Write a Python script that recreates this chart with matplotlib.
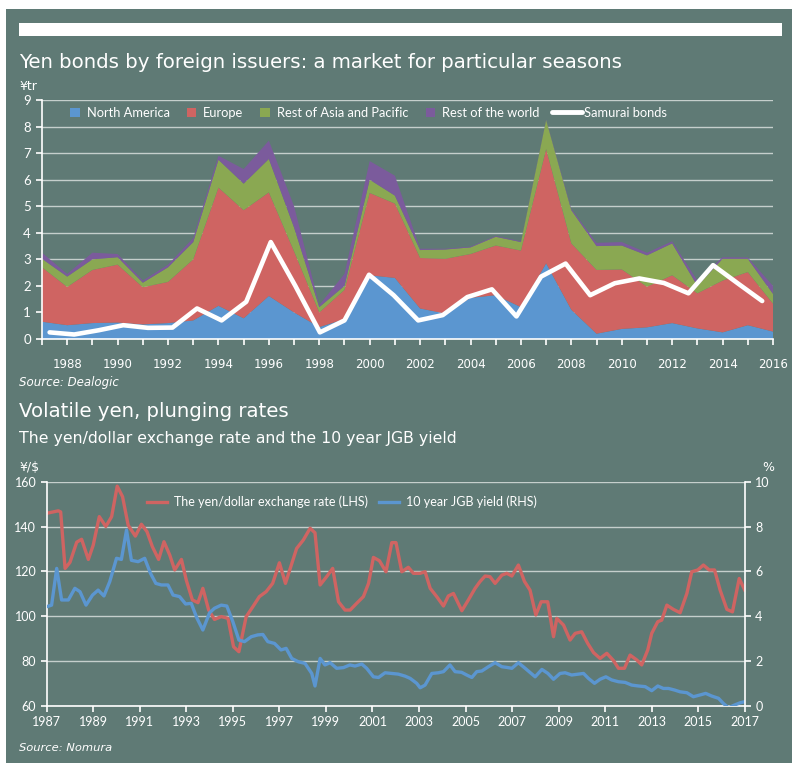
import numpy as np
import matplotlib.pyplot as plt
from matplotlib import font_manager
from matplotlib.patches import Rectangle, Patch
from matplotlib.lines import Line2D

# ---------------- data ----------------
years = list(range(1987, 2017))
north_america = [0.65, 0.52, 0.60, 0.62, 0.55, 0.60, 0.70, 1.25, 0.78, 1.62,
                 1.00, 0.45, 0.75, 2.40, 2.30, 1.15, 0.96, 1.55, 1.65, 1.20,
                 2.85, 1.10, 0.20, 0.38, 0.44, 0.60, 0.40, 0.25, 0.52, 0.28]
europe = [2.05, 1.44, 2.00, 2.18, 1.40, 1.55, 2.30, 4.45, 4.07, 3.90,
          2.30, 0.55, 1.10, 3.10, 2.80, 1.90, 2.06, 1.65, 1.87, 2.13,
          4.30, 2.50, 2.40, 2.24, 1.53, 1.80, 1.32, 1.95, 2.00, 1.05]
asia_pacific = [0.32, 0.39, 0.40, 0.28, 0.17, 0.55, 0.65, 1.05, 1.00, 1.26,
                0.90, 0.20, 0.15, 0.50, 0.30, 0.30, 0.35, 0.25, 0.33, 0.32,
                1.10, 1.25, 0.90, 0.90, 1.18, 1.20, 0.28, 0.82, 0.50, 0.37]
rest_world = [0.23, 0.10, 0.25, 0.12, 0.08, 0.10, 0.15, 0.15, 0.55, 0.69,
              0.80, 0.08, 0.45, 0.70, 0.75, 0.05, 0.03, 0.03, 0.03, 0.03,
              0.02, 0.05, 0.12, 0.13, 0.10, 0.08, 0.20, 0.06, 0.05, 0.30]
samurai = [0.25, 0.17, 0.33, 0.52, 0.42, 0.43, 1.15, 0.70, 1.40, 3.65,
           2.00, 0.25, 0.70, 2.42, 1.65, 0.70, 0.90, 1.58, 1.87, 0.85,
           2.35, 2.84, 1.65, 2.10, 2.28, 2.11, 1.72, 2.78, 2.10, 1.43]

fx_t = [1987.0, 1987.5, 1987.6, 1987.79, 1988.0, 1988.29, 1988.5, 1988.79, 1989.0,
        1989.26, 1989.54, 1989.79, 1990.03, 1990.26, 1990.5, 1990.81, 1991.07,
        1991.31, 1991.54, 1991.81, 1992.04, 1992.29, 1992.5, 1992.79, 1993.0,
        1993.26, 1993.5, 1993.71, 1993.96, 1994.21, 1994.5, 1994.79, 1995.03,
        1995.26, 1995.57, 1995.86, 1996.14, 1996.43, 1996.71, 1997.0, 1997.26,
        1997.74, 1998.03, 1998.32, 1998.53, 1998.75, 1999.03, 1999.29, 1999.54,
        1999.82, 2000.04, 2000.32, 2000.61, 2000.83, 2001.04, 2001.3, 2001.58,
        2001.83, 2002.01, 2002.26, 2002.54, 2002.76, 2003.05, 2003.26, 2003.48,
        2003.76, 2004.05, 2004.26, 2004.48, 2004.84, 2005.12, 2005.41, 2005.62,
        2005.84, 2006.05, 2006.27, 2006.56, 2006.77, 2006.99, 2007.27, 2007.53,
        2007.77, 2008.02, 2008.25, 2008.53, 2008.78, 2008.92, 2009.21, 2009.49,
        2009.71, 2009.99, 2010.25, 2010.5, 2010.78, 2011.07, 2011.36, 2011.57,
        2011.83, 2012.07, 2012.36, 2012.57, 2012.83, 2013.0, 2013.26, 2013.43,
        2013.65, 2013.93, 2014.22, 2014.51, 2014.72, 2014.98, 2015.22, 2015.47,
        2015.7, 2015.94, 2016.23, 2016.47, 2016.76, 2017.0]
fx_v = [145.9, 147.0, 146.5, 121.3, 124.0, 133.0, 134.3, 125.3, 131.7,
        144.4, 140.0, 144.4, 158.0, 153.3, 140.6, 135.7, 141.0,
        137.7, 131.0, 125.3, 133.2, 127.2, 120.6, 125.3, 116.0,
        107.2, 106.0, 112.4, 102.7, 98.5, 99.8, 99.0, 86.3,
        84.1, 99.7, 104.2, 108.7, 110.9, 114.6, 123.8, 114.6,
        130.2, 134.0, 139.2, 137.2, 113.9, 117.6, 121.3, 106.4,
        102.7, 102.7, 105.7, 108.7, 114.6, 126.2, 124.7, 119.8,
        132.8, 132.8, 119.8, 121.8, 119.1, 119.1, 119.8, 112.4,
        108.7, 104.5, 109.0, 110.1, 102.4, 107.2, 112.4, 115.4,
        117.9, 117.6, 114.6, 118.3, 119.1, 117.9, 122.8, 115.5,
        111.6, 100.5, 106.4, 106.4, 90.8, 99.0, 96.0, 89.3,
        92.3, 93.0, 87.8, 83.7, 81.1, 83.4, 80.1, 76.7,
        76.7, 82.6, 80.4, 78.2, 84.9, 92.3, 97.5, 98.2,
        104.9, 103.0, 101.5, 110.1, 119.8, 120.6, 122.8, 120.6,
        120.6, 111.6, 103.0, 101.9, 116.8, 111.6]

jgb_t = [1987.0, 1987.21, 1987.43, 1987.64, 1987.93, 1988.21, 1988.43, 1988.69,
         1988.97, 1989.21, 1989.46, 1989.71, 1990.0, 1990.21, 1990.43, 1990.64,
         1990.93, 1991.21, 1991.46, 1991.69, 1991.93, 1992.21, 1992.43, 1992.71,
         1992.97, 1993.21, 1993.46, 1993.71, 1994.0, 1994.21, 1994.5, 1994.74,
         1995.0, 1995.26, 1995.5, 1995.79, 1996.07, 1996.29, 1996.5, 1996.79,
         1997.07, 1997.29, 1997.53, 1997.82, 1998.1, 1998.39, 1998.53, 1998.75,
         1998.96, 1999.18, 1999.46, 1999.75, 2000.03, 2000.25, 2000.54, 2000.75,
         2001.04, 2001.26, 2001.54, 2001.83, 2002.11, 2002.4, 2002.62, 2002.9,
         2003.05, 2003.26, 2003.55, 2003.83, 2004.05, 2004.33, 2004.55, 2004.83,
         2005.05, 2005.27, 2005.48, 2005.7, 2005.98, 2006.27, 2006.56, 2006.77,
         2006.99, 2007.27, 2007.56, 2007.99, 2008.28, 2008.54, 2008.78, 2009.06,
         2009.28, 2009.56, 2009.85, 2010.07, 2010.28, 2010.54, 2010.78, 2011.03,
         2011.28, 2011.57, 2011.86, 2012.14, 2012.43, 2012.72, 2013.0, 2013.26,
         2013.5, 2013.72, 2013.98, 2014.22, 2014.51, 2014.79, 2015.08, 2015.32,
         2015.58, 2015.87, 2016.08, 2016.3, 2016.56, 2016.8, 2017.0]
jgb_v = [4.42, 4.49, 6.13, 4.72, 4.72, 5.24, 5.09, 4.49,
         4.94, 5.16, 4.90, 5.54, 6.58, 6.53, 7.84, 6.49,
         6.43, 6.58, 5.91, 5.46, 5.39, 5.39, 4.94, 4.87,
         4.54, 4.57, 3.90, 3.38, 4.15, 4.35, 4.49, 4.45,
         3.75, 2.93, 2.86, 3.08, 3.16, 3.18, 2.86, 2.78,
         2.49, 2.56, 2.11, 1.96, 1.89, 1.44, 0.88, 2.11,
         1.82, 1.92, 1.67, 1.70, 1.82, 1.77, 1.86, 1.67,
         1.29, 1.26, 1.47, 1.44, 1.41, 1.32, 1.22, 1.00,
         0.80, 0.92, 1.44, 1.47, 1.52, 1.82, 1.52, 1.49,
         1.37, 1.26, 1.52, 1.55, 1.74, 1.92, 1.74, 1.71,
         1.67, 1.92, 1.67, 1.29, 1.62, 1.44, 1.18, 1.44,
         1.47, 1.37, 1.41, 1.44, 1.22, 1.00, 1.18, 1.29,
         1.15, 1.07, 1.04, 0.92, 0.88, 0.85, 0.67, 0.88,
         0.77, 0.77, 0.70, 0.62, 0.58, 0.40, 0.48, 0.55,
         0.43, 0.33, 0.10, -0.09, 0.03, 0.13, 0.18]

# ---------------- style ----------------
BG = '#5f7a75'
C_NA = '#5b96d0'
C_EU = '#cf6462'
C_AS = '#8aa852'
C_RW = '#7b5b9c'
GRID = '#c5cfcc'
W = 'white'

installed = {f.name for f in font_manager.fontManager.ttflist}
BODY = 'Lato' if 'Lato' in installed else 'DejaVu Sans'
HEAD = 'DejaVu Sans'
plt.rcParams['font.family'] = [BODY, 'DejaVu Sans']

fig = plt.figure(figsize=(8, 7.69), dpi=100)
fig.patch.set_facecolor('white')
renderer = fig.canvas.get_renderer()


def fx(x):
    return x / 800


def fy(y):
    return 1 - y / 769


def fitted(x, y, s, width, **kw):
    # place a text and scale its size so its width matches the reference
    t = fig.text(fx(x), fy(y), s, color=W, va='baseline', ha='left', **kw)
    w = t.get_window_extent(renderer).width
    t.set_fontsize(t.get_fontsize() * width / w)
    return t


fig.add_artist(Rectangle((fx(6), fy(763)), fx(786), (763 - 9) / 769,
                         transform=fig.transFigure, facecolor=BG,
                         edgecolor='none', zorder=-10))
fig.add_artist(Rectangle((fx(19), fy(36)), fx(763), 13 / 769,
                         transform=fig.transFigure, facecolor=W,
                         edgecolor='none', zorder=-5))

fitted(19, 68, 'Yen bonds by foreign issuers: a market for particular seasons', 606,
       family=HEAD, fontsize=14)
fig.text(fx(19), fy(90), '¥tr', family=HEAD, fontsize=9, color=W, va='baseline')
fitted(19, 386, 'Source: Dealogic', 99, family=HEAD, style='italic', fontsize=9)
fitted(19, 417, 'Volatile yen, plunging rates', 271, family=HEAD, fontsize=14)
fitted(19, 443, 'The yen/dollar exchange rate and the 10 year JGB yield', 439,
       family=HEAD, fontsize=11)
fig.text(fx(19), fy(471), '¥/$', family=HEAD, fontsize=9, color=W, va='baseline')
fig.text(fx(768), fy(471), '%', family=HEAD, fontsize=9, color=W, va='baseline', ha='center')
fitted(19, 751, 'Source: Nomura', 93, family=HEAD, style='italic', fontsize=9)

# ---------------- top chart ----------------
ax = fig.add_axes([fx(42), fy(339), fx(731), 239 / 769])
ax.set_facecolor('none')
ax.stackplot(years, north_america, europe, asia_pacific, rest_world,
             colors=[C_NA, C_EU, C_AS, C_RW], linewidth=0)
ax.set_xlim(1987, 2016)
ax.set_ylim(0, 9)
ax.set_yticks(range(10))
ax.yaxis.grid(True, color=GRID, lw=1)
ax.set_axisbelow(True)
ax.set_xticks(years)
ax.set_xticklabels([str(y) if y % 2 == 0 else '' for y in years])
for s in ['top', 'right']:
    ax.spines[s].set_visible(False)
for s in ['left', 'bottom']:
    ax.spines[s].set_color(W)
    ax.spines[s].set_linewidth(1.2)
ax.tick_params(axis='y', colors=W, length=4, width=1.2, labelsize=9.5, pad=4)
ax.tick_params(axis='x', colors=W, length=4, width=1.2, labelsize=8.5, pad=10)
for lab in ax.get_xticklabels():
    lab.set_family(HEAD)

axs = ax.twiny()
axs.set_xlim(1986.69, 2016.44)
axs.plot(years, samurai, color=W, lw=3.3, solid_capstyle='round')
axs.set_axis_off()

leg1 = ax.legend([Patch(facecolor=c) for c in [C_NA, C_EU, C_AS, C_RW]],
                 ['North America', 'Europe', 'Rest of Asia and Pacific', 'Rest of the world'],
                 loc='center left', bbox_to_anchor=(fx(70), fy(113)),
                 bbox_transform=fig.transFigure, ncol=4, frameon=False,
                 handlelength=0.75, handleheight=0.75, handletextpad=0.55,
                 columnspacing=1.3, borderpad=0, borderaxespad=0,
                 fontsize=9.3, labelcolor=W)
ax.add_artist(leg1)
ax.legend([Line2D([], [], color=W, lw=3.5, solid_capstyle='round')], ['Samurai bonds'],
          loc='center left', bbox_to_anchor=(fx(552), fy(113)),
          bbox_transform=fig.transFigure, frameon=False, handlelength=2.3,
          handletextpad=0.2, borderpad=0, borderaxespad=0, fontsize=9.3,
          labelcolor=W)

# ---------------- bottom chart ----------------
ax3 = fig.add_axes([fx(46.7), fy(705.7), fx(698.1), 224 / 769])
ax3.set_facecolor('none')
ax3.set_xlim(1987, 2017)
ax3.set_ylim(60, 160)
ax3.set_yticks(range(60, 161, 20))
ax3.set_xticks(range(1987, 2018, 2))
ax3.yaxis.grid(True, color=GRID, lw=1)
ax3.set_axisbelow(True)
l1, = ax3.plot(fx_t, fx_v, color=C_EU, lw=2.4)
for s in ['top', 'right']:
    ax3.spines[s].set_visible(False)
for s in ['left', 'bottom']:
    ax3.spines[s].set_color(W)
    ax3.spines[s].set_linewidth(1.2)
ax3.tick_params(colors=W, length=4, width=1.2, labelsize=9)

ax4 = ax3.twinx()
ax4.set_ylim(0, 10)
ax4.set_yticks(range(0, 11, 2))
l2, = ax4.plot(jgb_t, jgb_v, color=C_NA, lw=2.4)
for s in ['top', 'left', 'bottom']:
    ax4.spines[s].set_visible(False)
ax4.spines['right'].set_color(W)
ax4.spines['right'].set_linewidth(1.2)
ax4.tick_params(colors=W, length=4, width=1.2, labelsize=9)

ax4.legend([l1, l2], ['The yen/dollar exchange rate (LHS)', '10 year JGB yield (RHS)'],
           loc='center left', bbox_to_anchor=(fx(147), fy(502)),
           bbox_transform=fig.transFigure, ncol=2, frameon=False,
           handlelength=1.6, handletextpad=0.55, columnspacing=0.9,
           borderpad=0, borderaxespad=0, fontsize=9, labelcolor=W)

fig.savefig('out.png', dpi=100, facecolor=fig.get_facecolor())
